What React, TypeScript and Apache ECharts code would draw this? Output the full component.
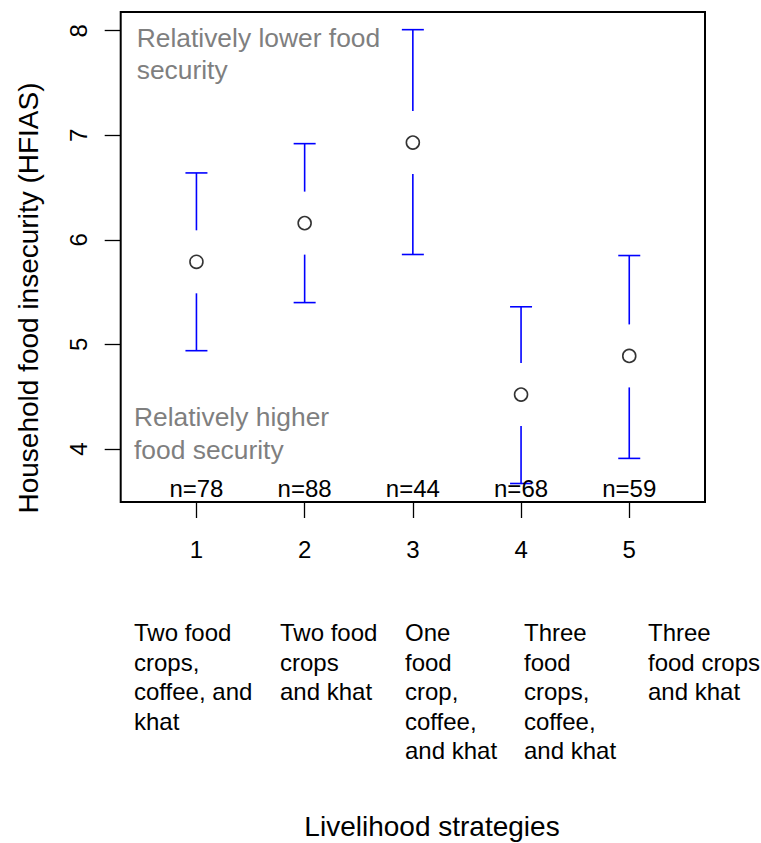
import React, { useEffect, useRef } from "react";
import * as echarts from "echarts";

// ---- data ----
const strategies = [1, 2, 3, 4, 5];
const meanHFIAS = [5.79, 6.16, 6.93, 4.52, 4.89];
const upperCI = [6.64, 6.92, 8.01, 5.36, 5.85];
const lowerCI = [4.94, 5.4, 5.86, 3.67, 3.91];
const sampleSizes = [78, 88, 44, 68, 59];
const strategyLabels = [
  "Two food\ncrops,\ncoffee, and\nkhat",
  "Two food\ncrops\nand khat",
  "One\nfood\ncrop,\ncoffee,\nand khat",
  "Three\nfood\ncrops,\ncoffee,\nand khat",
  "Three\nfood crops\nand khat",
];
const yTicks = [4, 5, 6, 7, 8];
const xTicks = [1, 2, 3, 4, 5];

// ---- layout (not data) ----
const FONT = '"Liberation Sans", Arial, Helvetica, sans-serif';
const labelLefts = [134, 280, 405, 524, 648];
const N_LABEL_LEVEL = 3.62;

export default function App() {
  const ref = useRef<HTMLDivElement | null>(null);

  useEffect(() => {
    if (!ref.current) return;
    const chart = echarts.init(ref.current, undefined, { renderer: "svg" });

    const errData = strategies.map((s, i) => [s, lowerCI[i], upperCI[i], meanHFIAS[i]]);
    const meanData = strategies.map((s, i) => [s, meanHFIAS[i]]);
    const nData = strategies.map((s, i) => [s, sampleSizes[i]]);

    const option: any = {
      animation: false,
      backgroundColor: "#ffffff",
      grid: {
        left: 120.7,
        right: 56,
        top: 12,
        bottom: 341,
        show: true,
        borderColor: "#000000",
        borderWidth: 2,
        backgroundColor: "transparent",
      },
      xAxis: {
        type: "value",
        min: 0.3,
        max: 5.7,
        axisLine: { show: false },
        splitLine: { show: false },
        axisTick: {
          show: true,
          length: 16,
          customValues: xTicks,
          lineStyle: { color: "#000", width: 1.3 },
        },
        axisLabel: {
          customValues: xTicks,
          fontSize: 24,
          fontFamily: FONT,
          color: "#000",
          margin: 35,
        },
      },
      yAxis: {
        type: "value",
        min: 3.493,
        max: 8.179,
        axisLine: { show: false },
        splitLine: { show: false },
        axisTick: {
          show: true,
          length: 16,
          customValues: yTicks,
          lineStyle: { color: "#000", width: 1.3 },
        },
        axisLabel: {
          customValues: yTicks,
          rotate: 90,
          fontSize: 24,
          fontFamily: FONT,
          color: "#000",
          margin: 30,
        },
      },
      series: [
        {
          type: "custom",
          data: errData,
          renderItem: (params: any, api: any) => {
            const x = api.value(0);
            const lo = api.value(1);
            const hi = api.value(2);
            const m = api.value(3);
            const pHi = api.coord([x, hi]);
            const pLo = api.coord([x, lo]);
            const pM = api.coord([x, m]);
            const gap = 31.5;
            const cap = 11;
            const style = { stroke: "#0000FF", lineWidth: 1.6 };
            return {
              type: "group",
              children: [
                { type: "line", shape: { x1: pHi[0], y1: pHi[1], x2: pM[0], y2: pM[1] - gap }, style },
                { type: "line", shape: { x1: pM[0], y1: pM[1] + gap, x2: pLo[0], y2: pLo[1] }, style },
                { type: "line", shape: { x1: pHi[0] - cap, y1: pHi[1], x2: pHi[0] + cap, y2: pHi[1] }, style },
                { type: "line", shape: { x1: pLo[0] - cap, y1: pLo[1], x2: pLo[0] + cap, y2: pLo[1] }, style },
              ],
            };
          },
        },
        {
          type: "scatter",
          data: meanData,
          symbol: "circle",
          symbolSize: 13,
          itemStyle: { color: "#ffffff", borderColor: "#000000", borderWidth: 1.6 },
        },
        {
          type: "custom",
          data: nData,
          renderItem: (params: any, api: any) => {
            const p = api.coord([api.value(0), N_LABEL_LEVEL]);
            return {
              type: "text",
              x: p[0],
              y: p[1],
              style: {
                text: "n=" + api.value(1),
                fill: "#000",
                fontSize: 24,
                fontFamily: FONT,
                align: "center",
                verticalAlign: "middle",
              },
            };
          },
        },
      ],
      graphic: [
        {
          type: "text",
          x: 28,
          y: 298,
          rotation: Math.PI / 2,
          style: {
            text: "Household food insecurity (HFIAS)",
            fill: "#000",
            fontSize: 28,
            fontFamily: FONT,
            align: "center",
            verticalAlign: "middle",
          },
        },
        {
          type: "text",
          x: 432,
          y: 826,
          style: {
            text: "Livelihood strategies",
            fill: "#000",
            fontSize: 28,
            fontFamily: FONT,
            align: "center",
            verticalAlign: "middle",
          },
        },
        {
          type: "text",
          x: 136.7,
          y: 22,
          style: {
            text: "Relatively lower food\nsecurity",
            fill: "#7F7F7F",
            fontSize: 26.4,
            lineHeight: 32,
            fontFamily: FONT,
            align: "left",
            verticalAlign: "top",
          },
        },
        {
          type: "text",
          x: 134,
          y: 400,
          style: {
            text: "Relatively higher\nfood security",
            fill: "#7F7F7F",
            fontSize: 26.4,
            lineHeight: 33,
            fontFamily: FONT,
            align: "left",
            verticalAlign: "top",
          },
        },
        ...strategyLabels.map((t, i) => ({
          type: "text",
          x: labelLefts[i],
          y: 618,
          style: {
            text: t,
            fill: "#000",
            fontSize: 24,
            lineHeight: 29.5,
            fontFamily: FONT,
            align: "left",
            verticalAlign: "top",
          },
        })),
      ],
    };

    chart.setOption(option);
    return () => chart.dispose();
  }, []);

  return (
    <div
      ref={ref}
      style={{ position: "absolute", left: 0, top: 0, width: 761, height: 843 }}
    />
  );
}
